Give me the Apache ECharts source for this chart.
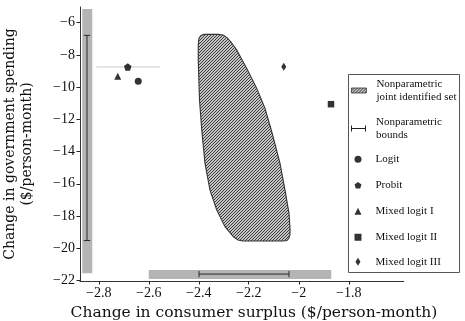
<!DOCTYPE html>
<html>
<head>
<meta charset="utf-8">
<script src="https://cdn.jsdelivr.net/npm/echarts@6/dist/echarts.min.js"></script>
<style>html,body{margin:0;padding:0;background:#fff;}#c{width:465px;height:321px;}</style>
</head>
<body>
<div id="c"></div>
<script>
// ---- data ----
const xTicks = [-2.8, -2.6, -2.4, -2.2, -2.0, -1.8];
const yTicks = [-22, -20, -18, -16, -14, -12, -10, -8, -6];
// joint identified set outline (consumer surplus, government spending)
const setX = [-2.402, -2.402, -2.399, -2.391, -2.379, -2.323, -2.303, -2.287, -2.271, -2.248, -2.208, -2.168, -2.135, -2.108, -2.075, -2.055, -2.039, -2.035, -2.035, -2.039, -2.047, -2.063, -2.223, -2.243, -2.262, -2.295, -2.328, -2.355, -2.375, -2.388, -2.397];
const setY = [-8.32, -7.39, -6.96, -6.79, -6.73, -6.73, -6.77, -6.93, -7.20, -7.70, -8.84, -10.08, -11.32, -12.77, -14.73, -16.39, -17.83, -18.74, -19.12, -19.36, -19.52, -19.55, -19.55, -19.49, -19.28, -18.66, -17.63, -16.39, -14.73, -12.66, -10.80];
// nonparametric bounds
const boundCSx = [-2.399, -2.039];   // bounds on consumer surplus
const boundCSy = -21.6;
const boundGSy = [-19.52, -6.79];    // bounds on government spending
const boundGSx = -2.847;
// gray bands [x0, x1, y0, y1]
const bandCS = [-2.6, -1.87, -21.9, -21.35];
const bandGS = [-2.866, -2.826, -21.55, -5.16];
// light reference line
const refLineX = [-2.81, -2.555];
const refLineY = -8.75;
// parametric estimates [cs, gs]
const logit = [-2.642, -9.63];
const probit = [-2.684, -8.75];
const mixed1 = [-2.724, -9.33];
const mixed2 = [-1.871, -11.06];
const mixed3 = [-2.06, -8.73];

// ---- hatch pattern ----
const T = 3;
const pc = document.createElement('canvas');
pc.width = T; pc.height = T;
const pctx = pc.getContext('2d');
pctx.fillStyle = '#fff'; pctx.fillRect(0, 0, T, T);
pctx.strokeStyle = '#2e2e2e'; pctx.lineWidth = 1.05;
pctx.beginPath();
pctx.moveTo(0, T); pctx.lineTo(T, 0);
pctx.moveTo(-1, 1); pctx.lineTo(1, -1);
pctx.moveTo(T - 1, T + 1); pctx.lineTo(T + 1, T - 1);
pctx.stroke();
const hatch = { image: pc, repeat: 'repeat' };

const serif = 'Liberation Serif';
const titleFont = 'DejaVu Serif';
const minus = v => String(v).replace('-', '\u2212');
const pentagon = 'path://M0,-1L0.951,-0.309L0.588,0.809L-0.588,0.809L-0.951,-0.309Z';
const thinDiamond = 'path://M0,-1L0.62,0L0,1L-0.62,0Z';
const boundsIcon = 'path://M0,0h1v6h-1zM1,2.5h13v1h-13zM14,0h1v6h-1z';

const chart = echarts.init(document.getElementById('c'));

const legendText = { fontFamily: serif, fontSize: 11, color: '#111', lineHeight: 12.5 };
function legendItem(name, top, extra) {
  return Object.assign({
    orient: 'vertical', left: 354.5, top: top, padding: 0,
    itemWidth: 7, itemHeight: 7, selectedMode: false,
    textStyle: Object.assign({ padding: [0, 0, 0, 9] }, legendText),
    data: [{ name: name }]
  }, extra || {});
}

const option = {
  animation: false,
  grid: { left: 80, top: 7, width: 323.75, height: 274, containLabel: false, outerBoundsMode: 'none' },
  xAxis: {
    type: 'value', min: -2.875, max: -1.58,
    name: 'Change in consumer surplus ($/person-month)',
    nameLocation: 'middle', nameGap: 24, nameMoveOverlap: false,
    nameTextStyle: { fontFamily: titleFont, fontSize: 15.5, color: '#111', verticalAlign: 'top', padding: [0, 0, 0, 24] },
    axisLine: { show: true, lineStyle: { color: '#333', width: 1 } },
    axisTick: { show: true, length: 3.5, customValues: xTicks, lineStyle: { color: '#222' } },
    axisLabel: { customValues: xTicks, formatter: minus, fontFamily: serif, fontSize: 14, color: '#111', margin: 5 },
    splitLine: { show: false }
  },
  yAxis: {
    type: 'value', min: -22.03, max: -5.03,
    name: 'Change in government spending\n($/person-month)',
    nameLocation: 'middle', nameGap: 38.5, nameRotate: 90, nameMoveOverlap: false,
    nameTextStyle: { fontFamily: titleFont, fontSize: 14, color: '#111', lineHeight: 17, padding: [0, 0, 6, 0] },
    axisLine: { show: true, lineStyle: { color: '#333', width: 1 } },
    axisTick: { show: true, length: 3.5, customValues: yTicks, lineStyle: { color: '#222' } },
    axisLabel: { customValues: yTicks, formatter: minus, fontFamily: serif, fontSize: 14, color: '#111', margin: 5 },
    splitLine: { show: false }
  },
  legend: [
    legendItem('Nonparametric joint identified set', 78, {
      left: 351, itemWidth: 15, itemHeight: 5,
      textStyle: Object.assign({ padding: [0, 0, 0, 5] }, legendText),
      formatter: () => 'Nonparametric\njoint identified set',
      data: [{ name: 'Nonparametric joint identified set', icon: 'rect', itemStyle: { color: hatch, borderColor: '#333', borderWidth: 0.8 } }]
    }),
    legendItem('Nonparametric bounds', 116, {
      left: 351, itemWidth: 15, itemHeight: 6,
      textStyle: Object.assign({ padding: [0, 0, 0, 5] }, legendText),
      formatter: () => 'Nonparametric\nbounds',
      data: [{ name: 'Nonparametric bounds', icon: boundsIcon }]
    }),
    legendItem('Logit', 153),
    legendItem('Probit', 179),
    legendItem('Mixed logit I', 205),
    legendItem('Mixed logit II', 231),
    legendItem('Mixed logit III', 255.5, { itemWidth: 5, itemHeight: 8, left: 355.5, textStyle: Object.assign({ padding: [0, 0, 0, 10] }, legendText) })
  ],
  graphic: [{
    type: 'rect', left: 348, top: 74, z: 100,
    shape: { width: 111, height: 198 },
    style: { fill: 'rgba(255,255,255,0)', stroke: '#555', lineWidth: 1 },
    silent: true
  }],
  series: [
    {
      name: 'bands', type: 'custom', silent: true, z: 1,
      data: [bandCS, bandGS],
      renderItem: (params, api) => {
        const p0 = api.coord([api.value(0), api.value(3)]);
        const p1 = api.coord([api.value(1), api.value(2)]);
        return { type: 'rect', shape: { x: p0[0], y: p0[1], width: p1[0] - p0[0], height: p1[1] - p0[1] }, style: { fill: '#b4b4b4' } };
      }
    },
    {
      name: 'ref', type: 'line', silent: true, z: 2, symbol: 'none',
      data: [[refLineX[0], refLineY], [refLineX[1], refLineY]],
      lineStyle: { color: '#dcdcdc', width: 1.5 }
    },
    {
      name: 'Nonparametric joint identified set', type: 'custom', z: 3,
      itemStyle: { color: hatch },
      data: setX.map((x, i) => [x, setY[i]]),
      renderItem: (params, api) => {
        if (params.dataIndex !== 0) return null;
        const pts = setX.map((x, i) => api.coord([x, setY[i]]));
        return { type: 'polygon', shape: { points: pts, smooth: 0 }, style: { fill: hatch, stroke: '#333', lineWidth: 1.1 } };
      }
    },
    {
      name: 'Nonparametric bounds', type: 'custom', z: 4,
      itemStyle: { color: '#222' },
      data: [[boundGSx, boundGSy[0], boundGSy[1], 0], [boundCSy, boundCSx[0], boundCSx[1], 1]],
      renderItem: (params, api) => {
        const horiz = api.value(3) === 1;
        const c = api.value(0), a = api.value(1), b = api.value(2);
        const p1 = horiz ? api.coord([a, c]) : api.coord([c, a]);
        const p2 = horiz ? api.coord([b, c]) : api.coord([c, b]);
        const st = { stroke: '#2a2a2a', lineWidth: 1 };
        const cap = 3.2;
        const lines = [[p1, p2]];
        if (horiz) {
          lines.push([[p1[0], p1[1] - cap], [p1[0], p1[1] + cap]]);
          lines.push([[p2[0], p2[1] - cap], [p2[0], p2[1] + cap]]);
        } else {
          lines.push([[p1[0] - cap, p1[1]], [p1[0] + cap, p1[1]]]);
          lines.push([[p2[0] - cap, p2[1]], [p2[0] + cap, p2[1]]]);
        }
        return { type: 'group', children: lines.map(l => ({ type: 'line', shape: { x1: l[0][0], y1: l[0][1], x2: l[1][0], y2: l[1][1] }, style: st })) };
      }
    },
    { name: 'Logit', type: 'scatter', z: 5, symbol: 'circle', symbolSize: 7, itemStyle: { color: '#000' }, data: [logit] },
    { name: 'Probit', type: 'scatter', z: 5, symbol: pentagon, symbolSize: 7.5, itemStyle: { color: '#000' }, data: [probit] },
    { name: 'Mixed logit I', type: 'scatter', z: 5, symbol: 'triangle', symbolSize: 7, itemStyle: { color: '#000' }, data: [mixed1] },
    { name: 'Mixed logit II', type: 'scatter', z: 5, symbol: 'rect', symbolSize: 6.5, itemStyle: { color: '#000' }, data: [mixed2] },
    { name: 'Mixed logit III', type: 'scatter', z: 5, symbol: thinDiamond, symbolSize: [5, 8], itemStyle: { color: '#000' }, data: [mixed3] }
  ]
};
chart.setOption(option);
</script>
</body>
</html>
